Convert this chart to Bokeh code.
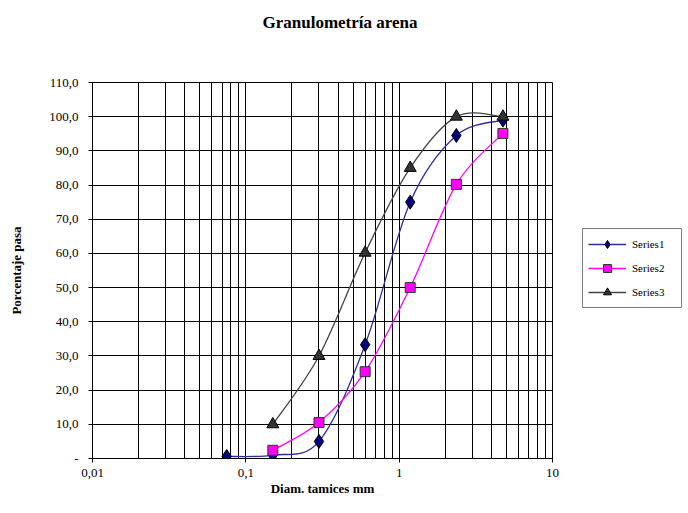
import math
from bokeh.plotting import figure
from bokeh.models import FixedTicker, Legend, LegendItem, Title, ColumnDataSource, Range1d
from bokeh.embed import file_html
from bokeh.resources import INLINE

# ---- data ----
sieve_mm = [0.075, 0.15, 0.3, 0.6, 1.18, 2.36, 4.75]
series1 = [0.6, 1.0, 5.0, 33.3, 75.0, 94.5, 99.0]
series2 = [None, 2.4, 10.5, 25.4, 50.0, 80.2, 95.1]
series3 = [None, 10.0, 30.0, 60.2, 85.0, 100.0, 100.0]
series_names = ["Series1", "Series2", "Series3"]

x_major = [0.01, 0.1, 1, 10]
x_minor = [0.02, 0.03, 0.04, 0.05, 0.06, 0.07, 0.08, 0.09,
           0.2, 0.3, 0.4, 0.5, 0.6, 0.7, 0.8, 0.9,
           2, 3, 4, 5, 6, 7, 8, 9]
x_labels = ["0,01", "0,1", "1", "10"]
y_ticks = [0, 10, 20, 30, 40, 50, 60, 70, 80, 90, 100, 110]
y_labels = ["-", "10,0", "20,0", "30,0", "40,0", "50,0", "60,0", "70,0",
            "80,0", "90,0", "100,0", "110,0"]

FONT = "Liberation Serif"

p = figure(width=672, height=497, frame_width=460, frame_height=376, x_axis_type="log",
           x_range=Range1d(0.01, 10), y_range=Range1d(0, 110),
           output_backend="svg", toolbar_location=None,
           min_border_left=92, min_border_right=120,
           min_border_top=82, min_border_bottom=39)
p.background_fill_color = "white"
p.border_fill_color = "white"
p.outline_line_color = "black"
p.outline_line_width = 1
p.title = None

# spacer (nearest the frame) then the real title above it
p.add_layout(Title(text=" ", text_font=FONT, text_font_size="16px", standoff=30), "above")
p.add_layout(Title(text="Granulometría arena", text_font=FONT, text_font_size="17px",
                   text_font_style="bold", text_color="black", align="left",
                   offset=170, standoff=4), "above")

# axes
xa = p.xaxis[0]
xa.ticker = FixedTicker(ticks=x_major, minor_ticks=x_minor)
xa.major_label_overrides = {t: l for t, l in zip(x_major, x_labels)}
xa.axis_label = "Diam. tamices mm"
ya = p.yaxis[0]
ya.ticker = FixedTicker(ticks=y_ticks)
ya.major_label_overrides = {t: l for t, l in zip(y_ticks, y_labels)}
ya.axis_label = "Porcentaje pasa"
for ax in (xa, ya):
    ax.axis_line_color = "black"
    ax.major_tick_line_color = "black"
    ax.major_tick_out = 4
    ax.major_tick_in = 0
    ax.minor_tick_out = 0
    ax.minor_tick_in = 0
    ax.major_label_text_font = FONT
    ax.major_label_text_font_size = "13px"
    ax.major_label_text_color = "black"
    ax.axis_label_text_font = FONT
    ax.axis_label_text_font_size = "13px"
    ax.axis_label_text_font_style = "bold"
    ax.axis_label_text_color = "black"
xa.major_label_standoff = 6
xa.axis_label_standoff = 1
ya.major_label_standoff = 10
ya.axis_label_standoff = 22

# grid
p.xgrid.grid_line_color = "black"
p.xgrid.minor_grid_line_color = "black"
p.xgrid.grid_line_width = 1
p.xgrid.minor_grid_line_width = 1
p.ygrid.grid_line_color = "black"
p.ygrid.grid_line_width = 1


def smooth_segments(xs, ys):
    pts = [(math.log10(x), y) for x, y in zip(xs, ys) if y is not None]
    n = len(pts)
    d = dict(x0=[], y0=[], x1=[], y1=[], cx0=[], cy0=[], cx1=[], cy1=[])
    for i in range(n - 1):
        p0 = pts[i - 1] if i > 0 else pts[i]
        p1 = pts[i]
        p2 = pts[i + 1]
        p3 = pts[i + 2] if i + 2 < n else pts[i + 1]
        c1 = (p1[0] + (p2[0] - p0[0]) / 6, p1[1] + (p2[1] - p0[1]) / 6)
        c2 = (p2[0] - (p3[0] - p1[0]) / 6, p2[1] - (p3[1] - p1[1]) / 6)
        d["x0"].append(10 ** p1[0]); d["y0"].append(p1[1])
        d["x1"].append(10 ** p2[0]); d["y1"].append(p2[1])
        d["cx0"].append(10 ** c1[0]); d["cy0"].append(c1[1])
        d["cx1"].append(10 ** c2[0]); d["cy1"].append(c2[1])
    return ColumnDataSource(d)


styles = [
    dict(line="#2e2e9c", marker="diamond", fill="#000080", size=14, out="#000000"),
    dict(line="#ff00ff", marker="square", fill="#ff00ff", size=10, out="#333333"),
    dict(line="#444444", marker="triangle", fill="#333333", size=12, out="#000000"),
]

items = []
for name, vals, st in zip(series_names, [series1, series2, series3], styles):
    src = smooth_segments(sieve_mm, vals)
    b = p.bezier(x0="x0", y0="y0", x1="x1", y1="y1", cx0="cx0", cy0="cy0",
                 cx1="cx1", cy1="cy1", source=src, line_color=st["line"], line_width=1.3)
    xs = [x for x, y in zip(sieve_mm, vals) if y is not None]
    ys = [y for y in vals if y is not None]
    s = p.scatter(xs, ys, marker=st["marker"], size=st["size"], fill_color=st["fill"],
                  line_color=st["out"], line_width=1)
    items.append(LegendItem(label=name, renderers=[b, s]))

legend = Legend(items=items, location=(30, 150), label_text_font=FONT,
                label_text_font_size="11px", label_text_color="black",
                border_line_color="black", border_line_width=1,
                background_fill_color="white", background_fill_alpha=1,
                padding=5, spacing=4, glyph_height=20, glyph_width=38,
                label_standoff=6, label_width=44, margin=0)
p.add_layout(legend, "right")

open("out.html", "w").write(file_html(p, INLINE))
